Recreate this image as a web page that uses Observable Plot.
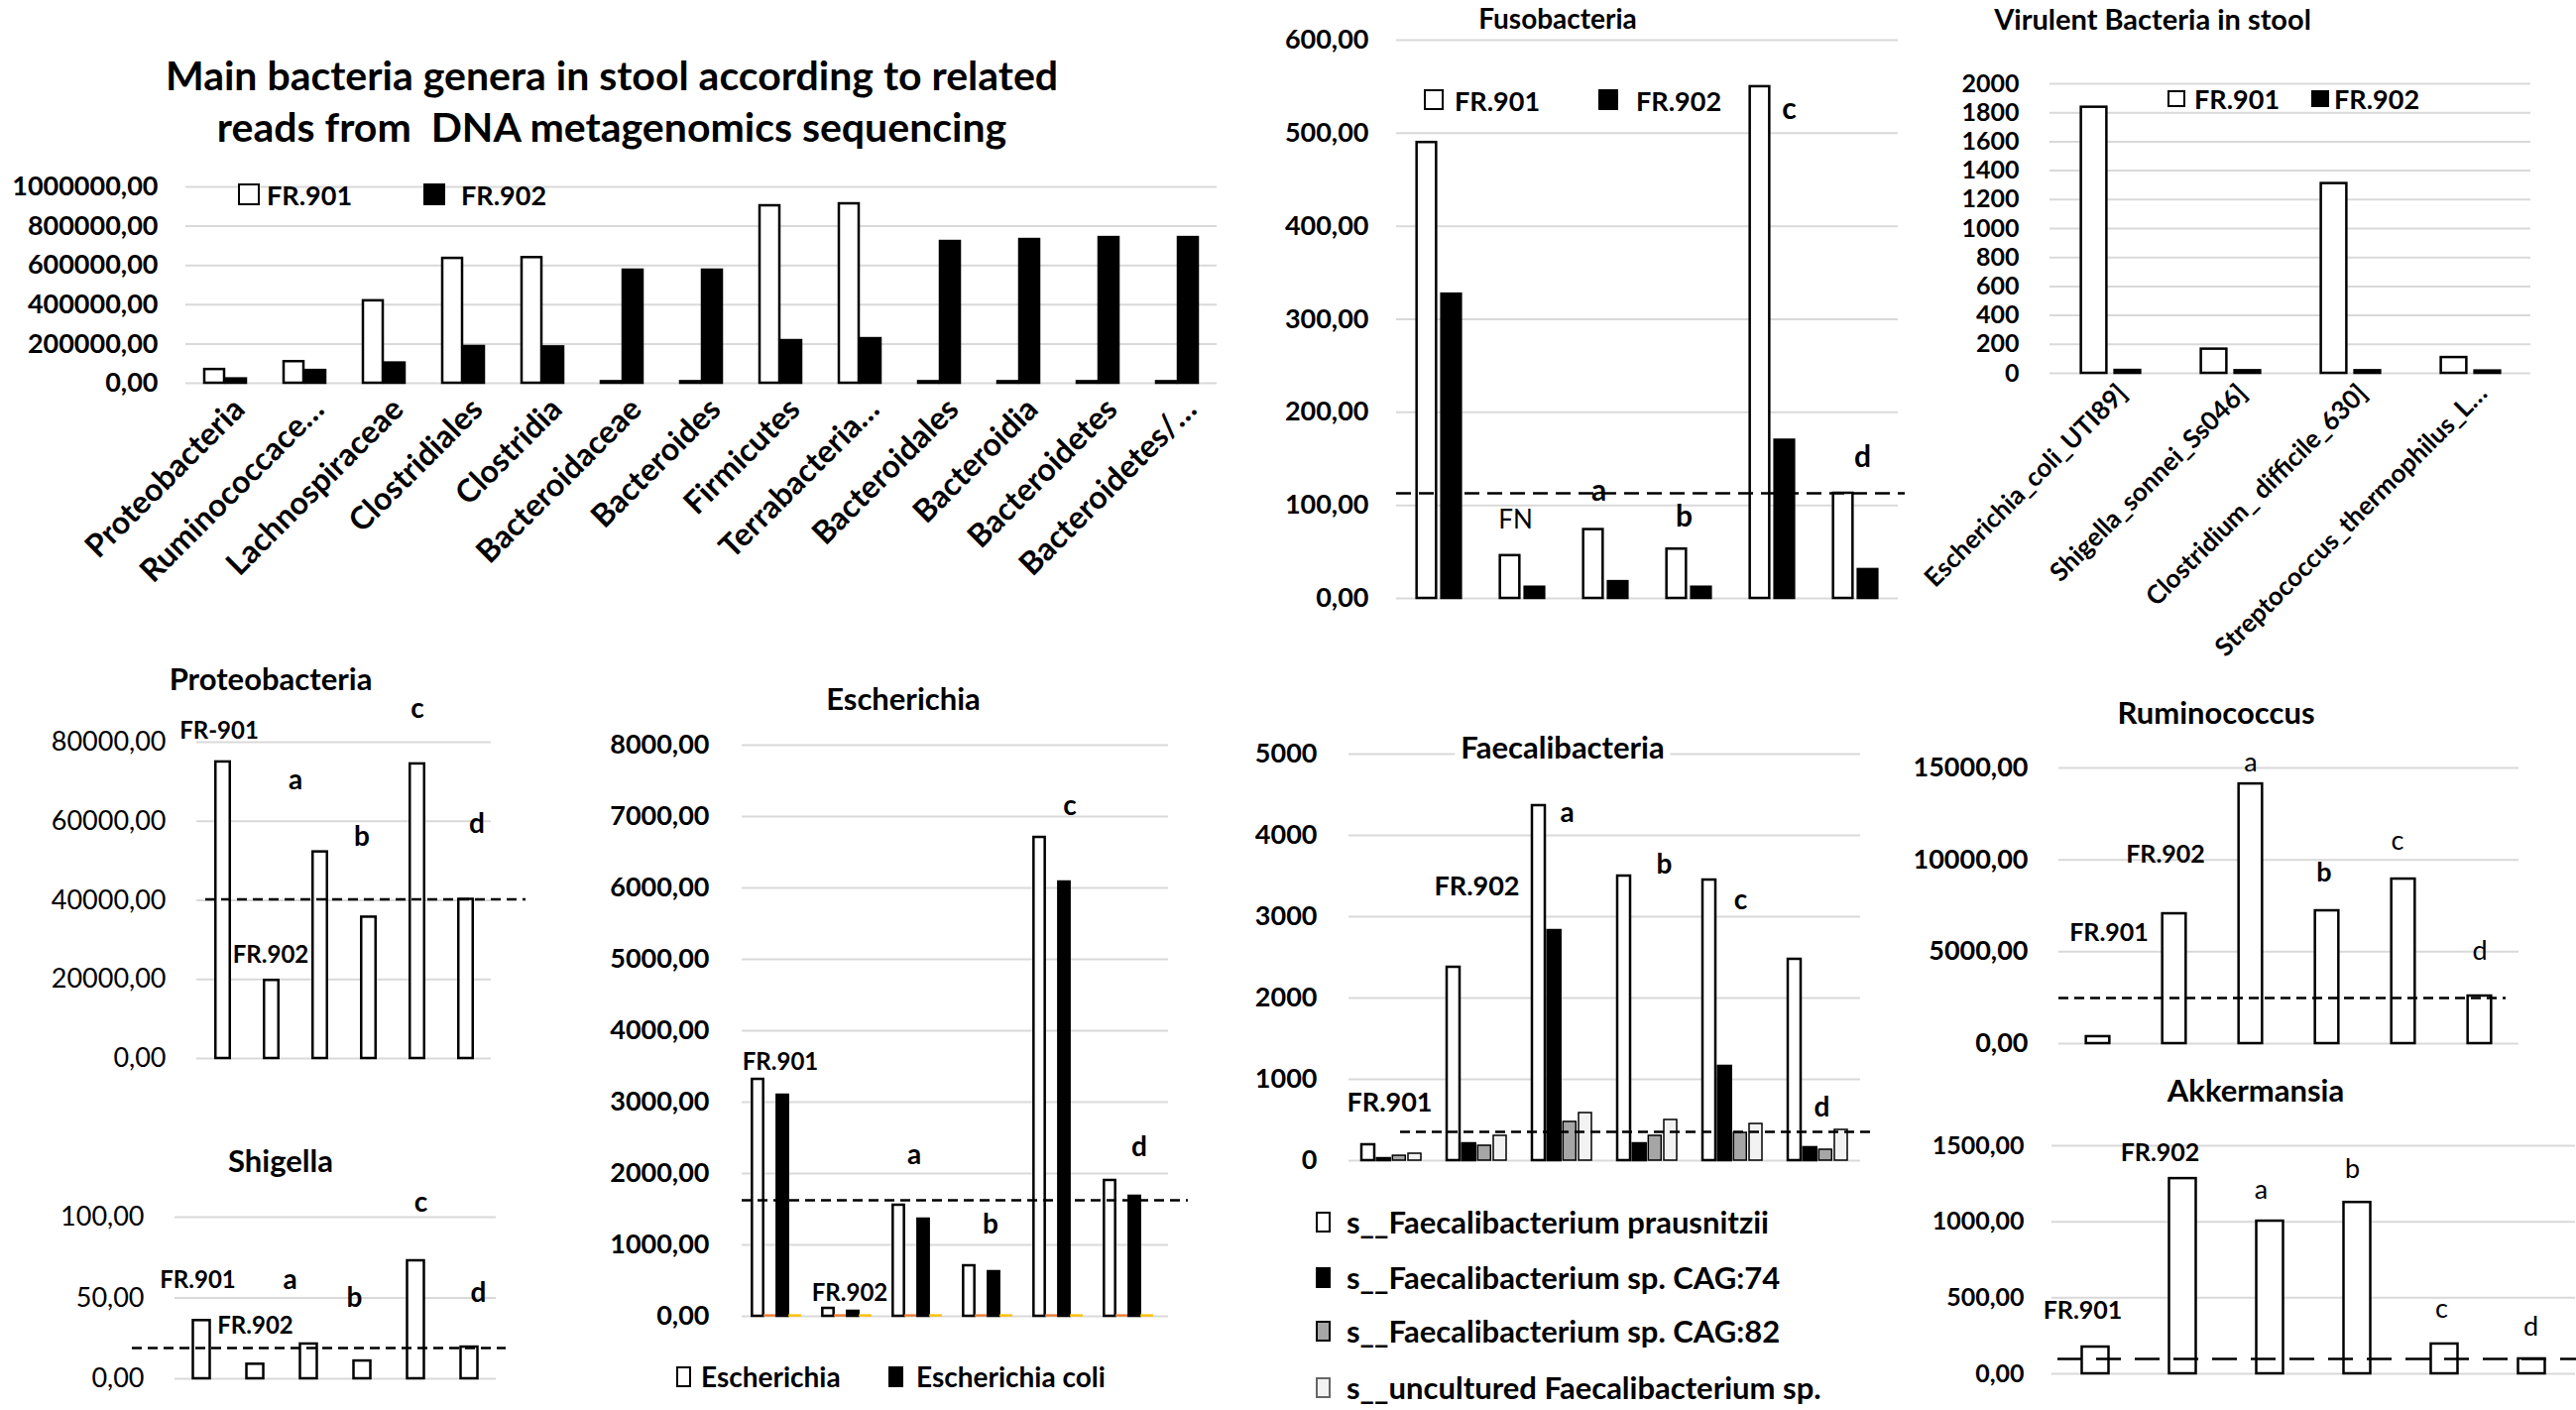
<!DOCTYPE html>
<html><head><meta charset="utf-8">
<script src="https://cdn.jsdelivr.net/npm/d3@7"></script>
<script src="https://cdn.jsdelivr.net/npm/@observablehq/plot@0.6"></script>
<style>
html,body{margin:0;padding:0;background:#fff;}
#root{position:relative;width:2598px;height:1422px;overflow:hidden;font-family:Lato,"Open Sans",sans-serif;color:#000;}
.abs{position:absolute;white-space:pre;line-height:1;}
svg{overflow:visible;}
</style></head><body><div id="root"></div>
<script>
// ---------------- DATA ----------------
const mainTitle = ["Main bacteria genera in stool according to related", "reads from  DNA metagenomics sequencing"];
const mainCategories = ["Proteobacteria","Ruminococcace…","Lachnospiraceae","Clostridiales","Clostridia","Bacteroidaceae","Bacteroides","Firmicutes","Terrabacteria…","Bacteroidales","Bacteroidia","Bacteroidetes","Bacteroidetes/…"];
const mainFR901 = [70000,110000,420000,636000,640000,8000,8000,904000,914000,8000,8000,8000,8000];
const mainFR902 = [22000,65000,103000,187000,185000,576000,576000,217000,227000,722000,732000,742000,742000];
const mainTicks = [0,200000,400000,600000,800000,1000000];
const seriesNames = ["FR.901","FR.902"];

const fusoCategories = ["Fusobacteria","FN","a","b","c","d"];
const fusoFR901 = [490,46,74,53,550,113];
const fusoFR902 = [327,12,18,12,170,31];
const fusoRef = 113;
const fusoTicks = [0,100,200,300,400,500,600];
const fusoNotes = [["FN",84,"FN"],["a",115,"a"],["b",87,"b"],["c",525,"c"],["d",151,"d"]];

const virCategories = ["Escherichia_coli_UTI89]","Shigella_sonnei_Ss046]","Clostridium_ difficile_630]","Streptococcus_thermophilus_L…"];
const virFR901 = [1838,167,1311,109];
const virFR902 = [20,18,18,16];
const virTicks = [0,200,400,600,800,1000,1200,1400,1600,1800,2000];

const sampleCategories = ["FR.901","FR.902","a","b","c","d"];

const proteoValues = [75000,19750,52250,35750,74500,40250];
const proteoRef = 40250;
const proteoTicks = [0,20000,40000,60000,80000];
const proteoNotes = [["FR.901",82750,"FR-901"],["FR.902",26250,"FR.902"],["a",70250,"a"],["b",56000,"b"],["c",88500,"c"],["d",59250,"d"]];

const shigValues = [36,9,21.5,11,73,19.6];
const shigRef = 19;
const shigTicks = [0,50,100];
const shigNotes = [["FR.901",61,"FR.901"],["FR.902",32.5,"FR.902"],["a",61,"a"],["b",50,"b"],["c",109,"c"],["d",53,"d"]];

const escSeriesNames = ["Escherichia","Escherichia coli"];
const escEscherichia = [3319,111,1556,708,6708,1903];
const escColi = [3097,70,1361,625,6083,1681];
const escOther1 = [12,12,12,12,12,12];
const escOther2 = [12,12,12,12,12,12];
const escRef = 1625;
const escTicks = [0,1000,2000,3000,4000,5000,6000,7000,8000];
const escNotes = [["FR.901",3556,"FR.901"],["FR.902",319,"FR.902"],["a",2250,"a"],["b",1278,"b"],["c",7139,"c"],["d",2361,"d"]];

const faeSeriesNames = ["s__Faecalibacterium prausnitzii","s__Faecalibacterium sp. CAG:74","s__Faecalibacterium sp. CAG:82","s__uncultured Faecalibacterium sp."];
const faePrausnitzii = [195,2378,4366,3500,3451,2476];
const faeCAG74 = [24,207,2829,207,1159,159];
const faeCAG82 = [60,183,476,305,341,134];
const faeUncultured = [85,305,585,500,451,378];
const faeRef = 354;
const faeTicks = [0,1000,2000,3000,4000,5000];
const faeNotes = [["FR.901",707,"FR.901"],["FR.902",3366,"FR.902"],["a",4268,"a"],["b",3634,"b"],["c",3195,"c"],["d",646,"d"]];

const rumValues = [380,7066,14131,7228,8954,2589];
const rumRef = 2481;
const rumTicks = [0,5000,10000,15000];
const rumNotes = [["FR.901",6041,"FR.901"],["FR.902",10302,"FR.902"],["a",15270,"a"],["b",9277,"b"],["c",11004,"c"],["d",5016,"d"]];

const akkValues = [176,1284,1004,1127,196,98];
const akkRef = 98;
const akkTicks = [0,500,1000,1500];
const akkNotes = [["FR.901",411,"FR.901"],["FR.902",1454,"FR.902"],["a",1206,"a"],["b",1343,"b"],["c",424,"c"],["d",306,"d"]];

// ---------------- HELPERS ----------------
const root = document.getElementById("root");
const comma2 = v => d3.format(".2f")(v).replace(".", ",");
const int0 = d3.format("d");
const GRID = "#d9d9d9";

function text(str, x, y, size, weight = "bold", opts = {}) {
  const d = document.createElement("div");
  d.className = "abs";
  d.textContent = str;
  Object.assign(d.style, {left: x + "px", top: y + "px", fontSize: size + "px", fontWeight: weight,
    transform: opts.anchor === "start" ? "translate(0,-50%)" : "translate(-50%,-50%)"});
  if (opts.bg) { d.style.background = opts.bg; d.style.padding = "2px 6px"; }
  root.appendChild(d);
}
function swatch(x, y, w, h, fill, stroke) {
  const d = document.createElement("div");
  d.className = "abs";
  Object.assign(d.style, {left: x + "px", top: y + "px", width: w + "px", height: h + "px",
    background: fill, border: `2px solid ${stroke}`, boxSizing: "border-box"});
  root.appendChild(d);
}

function panel(c) {
  const band = (c.x1 - c.x0) / c.cats.length;
  const marks = [Plot.gridY({ticks: c.ticks, stroke: GRID, strokeOpacity: 1, strokeWidth: 2})];
  c.series.forEach((s, k) => {
    const off = c.offsets[k];
    marks.push(Plot.barY(c.cats.map((cat, i) => ({cat, v: s.values[i]})), {
      x: "cat", y: "v", fill: s.fill, stroke: s.stroke, strokeWidth: s.sw ?? 2.5,
      insetLeft: band / 2 + off - c.barW / 2, insetRight: band / 2 - off - c.barW / 2
    }));
  });
  if (c.ref != null) marks.push(Plot.ruleY([c.ref], {stroke: "#000", strokeWidth: 2.5, strokeDasharray: c.dash,
    insetLeft: c.refInset[0], insetRight: c.refInset[1]}));
  marks.push(Plot.axisY({ticks: c.ticks, tickFormat: c.fmt, tickSize: 0, tickPadding: c.tickPad, label: null,
    fontSize: c.tickSize, fontWeight: c.tickWeight ?? "bold"}));
  if (c.xAxis) marks.push(Plot.axisX({tickSize: 0, tickRotate: -45, textAnchor: "end", lineAnchor: "middle", label: null,
    tickPadding: c.xAxis.pad, dx: c.xAxis.dx, fontSize: c.xAxis.size, fontWeight: "bold"}));
  (c.notes || []).forEach((n, i) => {
    const st = c.noteStyle[i];
    marks.push(Plot.text([{cat: n[0], v: n[1], label: n[2]}], {x: "cat", y: "v", text: "label",
      dx: st[0], fontSize: st[1], fontWeight: st[2] ? "bold" : "normal", fill: "#000"}));
  });
  const svg = Plot.plot({
    width: c.W, height: c.H,
    marginLeft: c.x0 - c.L, marginRight: c.L + c.W - c.x1,
    marginTop: c.yTopPx - c.T, marginBottom: c.T + c.H - c.y0Px,
    x: {domain: c.cats, padding: 0, axis: null},
    y: {domain: [0, c.yMax], axis: null},
    style: {fontFamily: "Lato, 'Open Sans', sans-serif", color: "#000", background: "transparent", overflow: "visible", maxWidth: "none"},
    marks
  });
  Object.assign(svg.style, {position: "absolute", left: c.L + "px", top: c.T + "px"});
  root.appendChild(svg);
}

const WHITE = {fill: "#fff", stroke: "#000"};
const BLACK = {fill: "#000", stroke: "#000"};
const TITLE = 31;

// ---------------- MAIN ----------------
text(mainTitle[0], 617, 75, 41);
text(mainTitle[1], 617, 127, 41);
panel({L: 0, T: 150, W: 1260, H: 450, x0: 187, x1: 1227, yTopPx: 188, y0Px: 386, yMax: 1000000,
  cats: mainCategories, ticks: mainTicks, fmt: comma2, tickPad: 28, tickSize: 27,
  series: [{values: mainFR901, ...WHITE}, {values: mainFR902, ...BLACK}], offsets: [-11, 11], barW: 20,
  xAxis: {pad: 21, dx: 14, size: 32}});
swatch(240, 185, 22, 22, "#fff", "#000"); text(seriesNames[0], 269, 196, 27, "bold", {anchor: "start"});
swatch(427, 185, 22, 22, "#000", "#000"); text(seriesNames[1], 465, 196, 27, "bold", {anchor: "start"});

// ---------------- FUSOBACTERIA ----------------
text("Fusobacteria", 1571, 18, 28);
panel({L: 1290, T: 0, W: 640, H: 640, x0: 1408, x1: 1914, yTopPx: 40, y0Px: 603, yMax: 600,
  cats: fusoCategories, ticks: fusoTicks, fmt: comma2, tickPad: 28, tickSize: 27,
  series: [{values: fusoFR901, ...WHITE}, {values: fusoFR902, ...BLACK}], offsets: [-12.5, 12.5], barW: 20,
  ref: fusoRef, dash: "15,8", refInset: [0, -7],
  notes: fusoNotes, noteStyle: [[-7, 26, 0], [-7, 30, 1], [-5, 30, 1], [17, 30, 1], [7, 30, 1]]});
swatch(1436, 90, 20, 21, "#fff", "#000"); text(seriesNames[0], 1467, 101, 27, "bold", {anchor: "start"});
swatch(1612, 90, 20, 21, "#000", "#000"); text(seriesNames[1], 1650, 101, 27, "bold", {anchor: "start"});

// ---------------- VIRULENT ----------------
text("Virulent Bacteria in stool", 2171, 18, 29);
panel({L: 1940, T: 0, W: 658, H: 640, x0: 2067, x1: 2552, yTopPx: 84, y0Px: 376, yMax: 2000,
  cats: virCategories, ticks: virTicks, fmt: int0, tickPad: 31, tickSize: 25,
  series: [{values: virFR901, ...WHITE}, {values: virFR902, ...BLACK}], offsets: [-17, 17], barW: 26,
  xAxis: {pad: 16, dx: 12, size: 26}});
swatch(2186, 91, 18, 17, "#fff", "#000"); text(seriesNames[0], 2213, 99, 27, "bold", {anchor: "start"});
swatch(2331, 91, 18, 17, "#000", "#000"); text(seriesNames[1], 2354, 99, 27, "bold", {anchor: "start"});

// ---------------- PROTEOBACTERIA ----------------
text("Proteobacteria", 273, 684, TITLE);
panel({L: 0, T: 700, W: 560, H: 400, x0: 198, x1: 495, yTopPx: 748, y0Px: 1067, yMax: 80000,
  cats: sampleCategories, ticks: proteoTicks, fmt: comma2, tickPad: 31, tickSize: 27, tickWeight: "normal",
  series: [{values: proteoValues, ...WHITE}], offsets: [0], barW: 15,
  ref: proteoRef, dash: "10,6", refInset: [9, -35],
  notes: proteoNotes, noteStyle: [[-4, 24, 1], [-1, 24, 1], [-25, 28, 1], [-7, 28, 1], [0, 28, 1], [11, 28, 1]]});

// ---------------- SHIGELLA ----------------
text("Shigella", 283, 1170, TITLE);
panel({L: 0, T: 1190, W: 560, H: 232, x0: 176, x1: 500, yTopPx: 1227, y0Px: 1390, yMax: 100,
  cats: sampleCategories, ticks: shigTicks, fmt: comma2, tickPad: 31, tickSize: 27, tickWeight: "normal",
  series: [{values: shigValues, ...WHITE}], offsets: [0], barW: 17,
  ref: shigRef, dash: "10,6", refInset: [-43, -10],
  notes: shigNotes, noteStyle: [[-4, 24, 1], [0, 24, 1], [-19, 28, 1], [-8, 28, 1], [5, 28, 1], [9, 28, 1]]});

// ---------------- ESCHERICHIA ----------------
text("Escherichia", 911, 704, TITLE);
panel({L: 560, T: 700, W: 700, H: 660, x0: 748, x1: 1178, yTopPx: 751, y0Px: 1327, yMax: 8000,
  cats: sampleCategories, ticks: escTicks, fmt: comma2, tickPad: 33, tickSize: 27,
  series: [{values: escEscherichia, ...WHITE}, {values: escOther1, fill: "#ED7D31", stroke: "#ED7D31", sw: 1.5},
           {values: escColi, ...BLACK}, {values: escOther2, fill: "#FFC000", stroke: "#FFC000", sw: 1.5}],
  offsets: [-21.5, -9, 3.5, 16], barW: 12,
  ref: escRef, dash: "10,6", refInset: [0, -20],
  notes: escNotes, noteStyle: [[1, 24, 1], [0, 24, 1], [-6, 28, 1], [0, 28, 1], [9, 28, 1], [8, 28, 1]]});
swatch(682, 1378, 15, 21, "#fff", "#000"); text(escSeriesNames[0], 707, 1388, 28, "bold", {anchor: "start"});
swatch(896, 1378, 15, 21, "#000", "#000"); text(escSeriesNames[1], 924, 1388, 28, "bold", {anchor: "start"});

// ---------------- FAECALIBACTERIA ----------------
panel({L: 1260, T: 700, W: 640, H: 500, x0: 1360, x1: 1876, yTopPx: 760, y0Px: 1170, yMax: 5000,
  cats: sampleCategories, ticks: faeTicks, fmt: int0, tickPad: 32, tickSize: 27,
  series: [{values: faePrausnitzii, ...WHITE}, {values: faeCAG74, ...BLACK},
           {values: faeCAG82, fill: "#a6a6a6", stroke: "#000", sw: 1.5}, {values: faeUncultured, fill: "#f2f2f2", stroke: "#000", sw: 1.5}],
  offsets: [-23.5, -7.8, 7.8, 23.5], barW: 13,
  ref: faeRef, dash: "10,6", refInset: [52, -11],
  notes: faeNotes, noteStyle: [[-2, 27, 1], [0, 27, 1], [5, 28, 1], [17, 28, 1], [8, 28, 1], [4, 28, 1]]});
text("Faecalibacteria", 1576, 753, TITLE, "bold", {bg: "#fff"});
const faeFills = ["#fff", "#000", "#a6a6a6", "#f2f2f2"];
const faeRows = [1232, 1288, 1342, 1399];
faeSeriesNames.forEach((n, i) => {
  swatch(1327, faeRows[i] - 10, 15, 21, faeFills[i], i === 3 ? "#666" : "#000");
  text(n, 1358, faeRows[i], 31, "bold", {anchor: "start"});
});

// ---------------- RUMINOCOCCUS ----------------
text("Ruminococcus", 2235, 718, TITLE);
panel({L: 1920, T: 700, W: 678, H: 380, x0: 2076, x1: 2540, yTopPx: 774, y0Px: 1052, yMax: 15000,
  cats: sampleCategories, ticks: rumTicks, fmt: comma2, tickPad: 31, tickSize: 27,
  series: [{values: rumValues, ...WHITE}], offsets: [0], barW: 24,
  ref: rumRef, dash: "10,6", refInset: [0, 13],
  notes: rumNotes, noteStyle: [[11, 25, 1], [-9, 25, 1], [0, 27, 0], [-3, 27, 1], [-6, 27, 0], [0, 27, 0]]});

// ---------------- AKKERMANSIA ----------------
text("Akkermansia", 2275, 1099, TITLE);
panel({L: 1920, T: 1100, W: 678, H: 322, x0: 2069, x1: 2597, yTopPx: 1155, y0Px: 1385, yMax: 1500,
  cats: sampleCategories, ticks: akkTicks, fmt: comma2, tickPad: 28, tickSize: 25,
  series: [{values: akkValues, ...WHITE}], offsets: [0], barW: 27,
  ref: akkRef, dash: "25,14", refInset: [6, -1],
  notes: akkNotes, noteStyle: [[-13, 25, 1], [-23, 25, 1], [-9, 27, 0], [-5, 27, 0], [-3, 27, 0], [-1, 27, 0]]});
</script></body></html>
